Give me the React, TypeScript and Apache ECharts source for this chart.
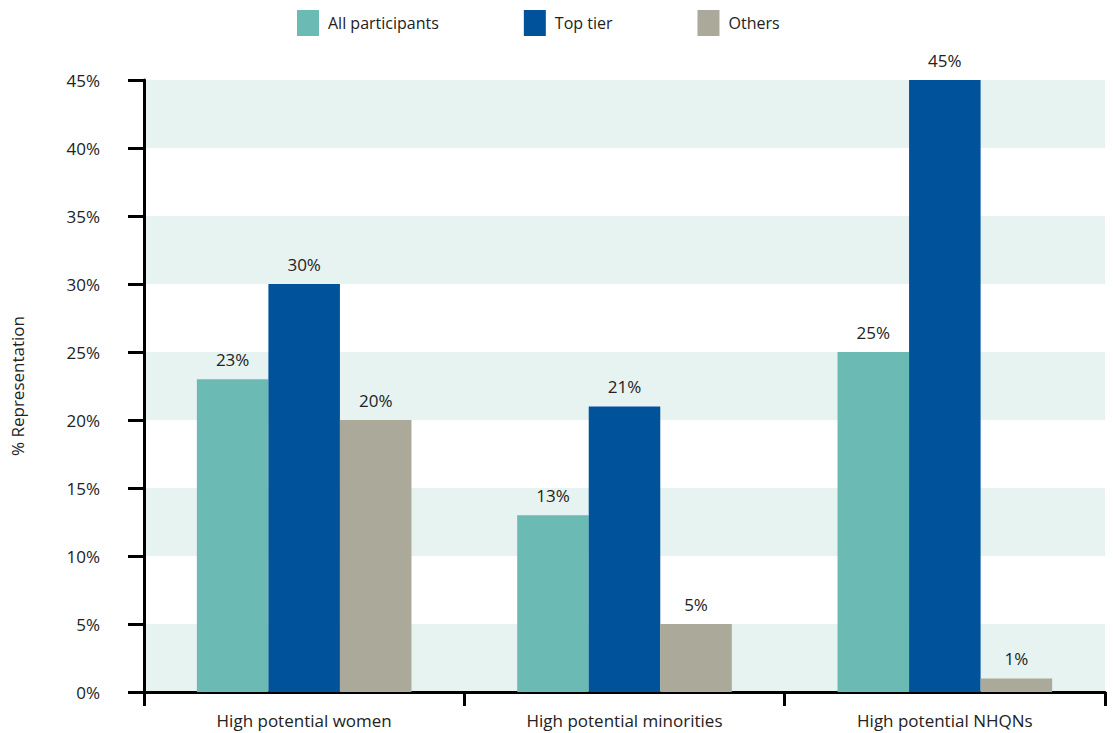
import React, { useEffect, useRef } from "react";
import * as echarts from "echarts";

const categories = ["High potential women", "High potential minorities", "High potential NHQNs"];
const allParticipants = [23, 13, 25];
const topTier = [30, 21, 45];
const others = [20, 5, 1];
const seriesNames = ["All participants", "Top tier", "Others"];
const colors = ["#6bbab3", "#00539b", "#aba99a"];

const FONT = "'Open Sans', 'Noto Sans', sans-serif";

export default function App() {
  const ref = useRef<HTMLDivElement>(null);
  useEffect(() => {
    if (!ref.current) return;
    const chart = echarts.init(ref.current, undefined, { renderer: "svg" });
    const values = [allParticipants, topTier, others];
    chart.setOption({
      animation: false,
      textStyle: { fontFamily: FONT },
      legend: {
        data: seriesNames,
        left: 292,
        top: 5,
        itemWidth: 22,
        itemHeight: 26,
        itemGap: 85,
        icon: "rect",
        textStyle: { fontSize: 16, color: "#222", fontFamily: FONT, padding: [0, 0, 0, 4] },
      },
      grid: { left: 144, right: 8, top: 80, bottom: 41, containLabel: false, outerBoundsMode: "none" },
      xAxis: {
        type: "category",
        data: categories,
        axisLine: { lineStyle: { color: "#000", width: 3 } },
        axisTick: { show: true, length: 14, lineStyle: { color: "#000", width: 3 } },
        axisLabel: { fontSize: 17, color: "#222", margin: 20, fontFamily: FONT },
      },
      yAxis: {
        type: "value",
        min: 0,
        max: 45,
        interval: 5,
        name: "% Representation",
        nameLocation: "middle",
        nameGap: 118,
        nameTextStyle: { fontSize: 17, color: "#222", fontFamily: FONT },
        axisLine: { show: true, lineStyle: { color: "#000", width: 3 } },
        axisTick: { show: true, length: 16, lineStyle: { color: "#000", width: 3 } },
        axisLabel: { formatter: "{value}%", fontSize: 17, color: "#222", margin: 44, fontFamily: FONT },
        splitLine: { show: false },
        splitArea: { show: true, areaStyle: { color: ["#e6f3f1", "#ffffff"] } },
      },
      series: seriesNames.map((name, i) => ({
        name,
        type: "bar",
        data: values[i],
        barGap: "0%",
        barCategoryGap: "33%",
        itemStyle: { color: colors[i] },
        label: {
          show: true,
          position: "top",
          distance: 11,
          formatter: "{c}%",
          fontSize: 17,
          color: "#222",
          fontFamily: FONT,
        },
      })),
    });
    return () => chart.dispose();
  }, []);
  return <div ref={ref} style={{ width: 1113, height: 733, position: "absolute", left: 0, top: 0 }} />;
}
